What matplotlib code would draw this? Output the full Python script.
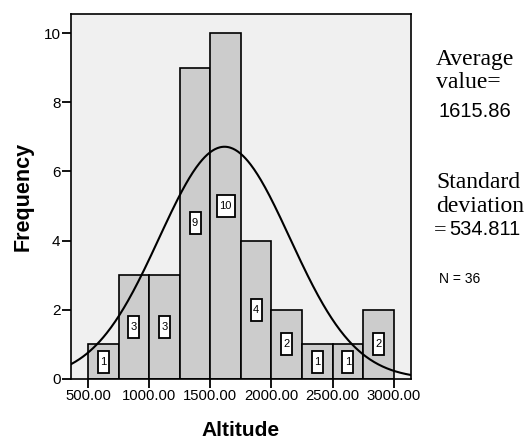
import numpy as np
import matplotlib
matplotlib.use("Agg")
import matplotlib.pyplot as plt
from matplotlib.patches import Rectangle
from matplotlib.transforms import ScaledTranslation

# histogram of altitude (bins of 250)
bin_edges = [500, 750, 1000, 1250, 1500, 1750, 2000, 2250, 2500, 2750, 3000]
counts = [1, 3, 3, 9, 10, 4, 2, 1, 1, 2]
mean_value = 1615.86
std_dev = 534.811
n_total = 36
x_ticks = [500, 1000, 1500, 2000, 2500, 3000]
y_ticks = [0, 2, 4, 6, 8, 10]

plt.rcParams['font.family'] = ['Liberation Sans', 'DejaVu Sans']

fig = plt.figure(figsize=(5.28, 4.41), dpi=100)
ax = fig.add_axes([0.1345, 0.1406, 0.6435, 0.8276])
ax.set_facecolor('#f0f0f0')

edges = np.array(bin_edges)
widths = np.diff(edges)
ax.bar(edges[:-1], counts, width=widths, align='edge', color='#cccccc',
       edgecolor='black', linewidth=1.2, zorder=2)

# boxed count labels at half bar height (box size in pixels)
for left, w, c in zip(edges[:-1], widths, counts):
    xc, yc = left + w / 2, c / 2
    bw_in = (11 if c < 10 else 18) / 100
    bh_in = 22 / 100
    tr = fig.dpi_scale_trans + ScaledTranslation(xc, yc, ax.transData)
    ax.add_patch(Rectangle((-bw_in / 2, -bh_in / 2), bw_in, bh_in, transform=tr,
                           facecolor='white', edgecolor='black', linewidth=1.3, zorder=4))
    ax.text(xc, yc, str(c), ha='center', va='center', fontsize=8, zorder=5)

# fitted normal curve
xlim = (361, 3139)
xs = np.linspace(xlim[0], xlim[1], 400)
bw = widths[0]
ys = n_total * bw / (std_dev * np.sqrt(2 * np.pi)) * np.exp(-0.5 * ((xs - mean_value) / std_dev) ** 2)
ax.plot(xs, ys, color='black', linewidth=1.5, zorder=3)

ax.set_xlim(xlim)
ax.set_ylim(0, 10.55)
ax.set_xticks(x_ticks)
ax.set_xticklabels(['%.2f' % v for v in x_ticks], fontsize=10.7)
ax.set_yticks(y_ticks)
ax.set_yticklabels([str(v) for v in y_ticks], fontsize=11)
ax.tick_params(direction='out', length=6.5, width=1.3, pad=1)
for s in ax.spines.values():
    s.set_linewidth(1.2)

ax.set_xlabel('Altitude', fontsize=15, fontweight='bold', labelpad=13)
ax.set_ylabel('Frequency', fontsize=15.5, fontweight='bold', labelpad=7)

serif = ['Liberation Serif', 'DejaVu Serif']
fig.text(436 / 528, 1 - 65 / 441, 'Average', family=serif, fontsize=17, va='baseline')
fig.text(436 / 528, 1 - 88 / 441, 'value=', family=serif, fontsize=17, va='baseline')
fig.text(439 / 528, 1 - 117 / 441, '1615.86', fontsize=14.5, va='baseline')
fig.text(436 / 528, 1 - 188 / 441, 'Standard', family=serif, fontsize=17, va='baseline')
fig.text(436 / 528, 1 - 212 / 441, 'deviation', family=serif, fontsize=17, va='baseline')
fig.text(434 / 528, 1 - 235 / 441, '=', family=serif, fontsize=16, va='baseline')
fig.text(449 / 528, 1 - 235 / 441, '534.811', fontsize=14.5, va='baseline')
fig.text(439 / 528, 1 - 283 / 441, 'N = %d' % n_total, fontsize=10, va='baseline')

fig.savefig('out.png', dpi=100)
